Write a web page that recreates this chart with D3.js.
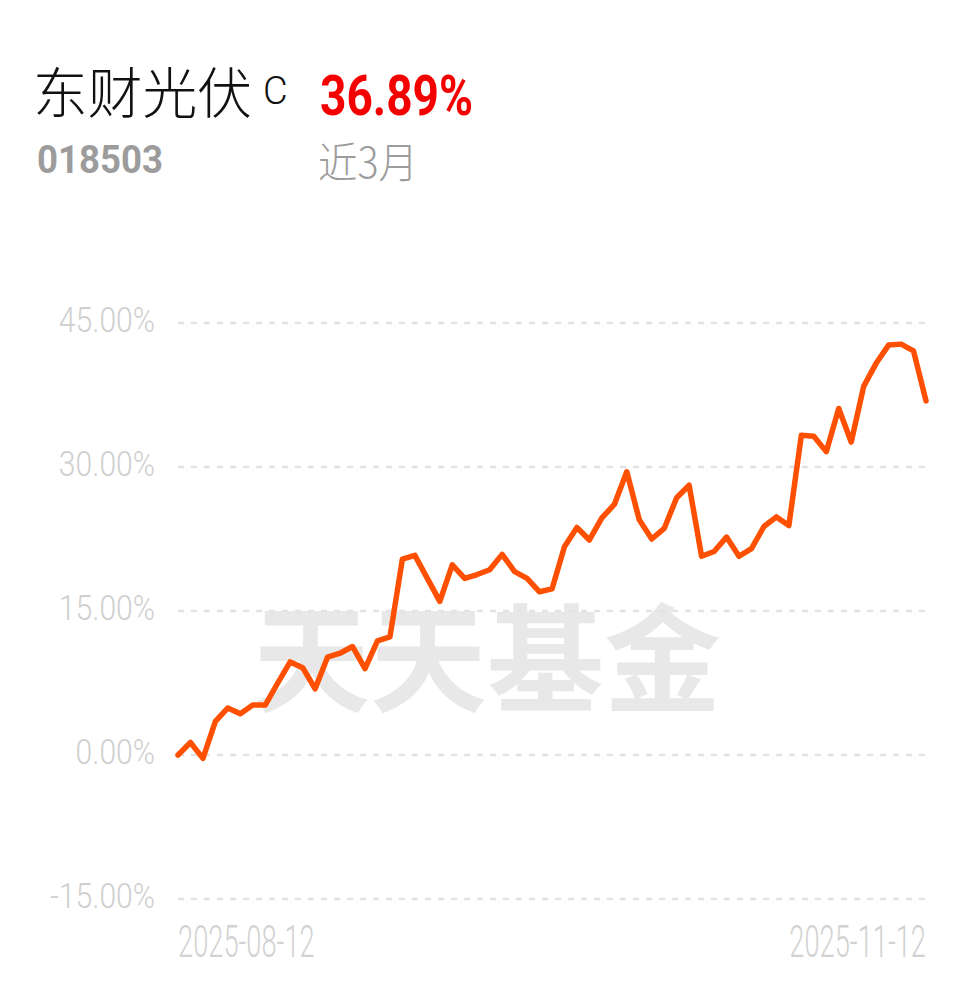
<!DOCTYPE html>
<html>
<head>
<meta charset="utf-8">
<script src="https://cdn.jsdelivr.net/npm/d3@7"></script>
<style>
html,body{margin:0;padding:0;background:#fff;}
svg{display:block;}
</style>
</head>
<body>
<svg id="chart" width="978" height="986"></svg>
<script>
// ---- data ----
const fundName = "东财光伏";
const fundSuffix = "C";
const fundCode = "018503";
const periodReturn = "36.89%";
const periodLabel = "近3月";
const watermark = "天天基金";
const yTicks = [-15, 0, 15, 30, 45];
const xTickLabels = ["2025-08-12", "2025-11-12"];
const returns = [
  0, 1.3, -0.35, 3.5, 4.9, 4.3, 5.2, 5.2, 7.5, 9.7,
  9.1, 6.9, 10.2, 10.6, 11.3, 9.0, 11.9, 12.3, 20.4, 20.8,
  18.4, 16.0, 19.8, 18.4, 18.8, 19.3, 20.9, 19.1, 18.4, 17.0,
  17.3, 21.7, 23.7, 22.4, 24.7, 26.1, 29.5, 24.5, 22.5, 23.6,
  26.8, 28.1, 20.7, 21.2, 22.7, 20.7, 21.5, 23.8, 24.8, 23.9,
  33.3, 33.2, 31.6, 36.1, 32.6, 38.4, 40.8, 42.7, 42.8, 42.1,
  36.89
];

// ---- drawing ----
(function() {
const svg = d3.select("#chart");
const pLeft = 178, pRight = 926, pTop = 323, pBottom = 899;
const x = d3.scaleLinear().domain([0, returns.length - 1]).range([pLeft, pRight]);
const y = d3.scaleLinear().domain([-15, 45]).range([pBottom, pTop]);

function fitWidth(sel, w) {
  sel.each(function() {
    this.setAttribute("textLength", w);
    this.setAttribute("lengthAdjust", "spacingAndGlyphs");
  });
}

// header
const t1 = svg.append("text")
  .attr("x", 33).attr("y", 113)
  .attr("font-family", "'Noto Sans CJK SC'")
  .attr("font-weight", 300)
  .attr("font-size", 55)
  .attr("fill", "#111")
  .text(fundName);
fitWidth(t1, 219);
svg.append("text")
  .attr("x", 263).attr("y", 104)
  .attr("font-family", "Roboto, 'Noto Sans'")
  .attr("font-weight", 300)
  .attr("font-size", 38)
  .attr("fill", "#111")
  .text(fundSuffix);

const t2 = svg.append("text")
  .attr("x", 320).attr("y", 115)
  .attr("font-family", "Roboto, 'Noto Sans'")
  .attr("font-weight", 700)
  .attr("font-size", 56)
  .attr("fill", "#f50000")
  .text(periodReturn);
fitWidth(t2, 153);

const t3 = svg.append("text")
  .attr("x", 37).attr("y", 173)
  .attr("font-family", "Roboto, 'Noto Sans'")
  .attr("font-weight", 700)
  .attr("font-size", 38)
  .attr("fill", "#9c9c9c")
  .text(fundCode);
fitWidth(t3, 126);

const t4 = svg.append("text")
  .attr("x", 318).attr("y", 178)
  .attr("font-family", "'Noto Sans CJK SC'")
  .attr("font-weight", 300)
  .attr("font-size", 42)
  .attr("fill", "#9c9c9c")
  .text(periodLabel);
fitWidth(t4, 100);

// watermark
svg.append("text")
  .attr("x", 487).attr("y", 703)
  .attr("text-anchor", "middle")
  .attr("font-family", "'Noto Sans CJK SC'")
  .attr("font-weight", 700)
  .attr("font-size", 117)
  .attr("fill", "#e8e8e8")
  .text(watermark);

// gridlines
svg.append("g").selectAll("line").data(yTicks).join("line")
  .attr("x1", pLeft).attr("x2", pRight)
  .attr("y1", d => y(d)).attr("y2", d => y(d))
  .attr("stroke", "#e3e3e3")
  .attr("stroke-width", 2.5)
  .attr("stroke-dasharray", "6,7");

// y labels (horizontally condensed)
const yAxis = d3.axisLeft(y).tickValues(yTicks).tickSize(0).tickPadding(0)
  .tickFormat(d => d.toFixed(2) + "%");
const gy = svg.append("g").attr("transform", `translate(155,-4)`).call(yAxis);
gy.select(".domain").remove();
gy.selectAll(".tick text")
  .attr("x", 0)
  .attr("font-family", "Roboto, 'Noto Sans'")
  .attr("font-weight", 300)
  .attr("font-size", 35)
  .attr("fill", "#cfcfcf")
  .attr("dy", "0.36em")
  .attr("transform", "scale(0.86,1)");

// x labels (horizontally condensed)
const sx = 0.62;
svg.append("g").selectAll("text").data(xTickLabels).join("text")
  .attr("transform", (d, i) => `translate(${i === 0 ? x(0) : x(returns.length - 1)},957) scale(${sx},1)`)
  .attr("text-anchor", (d, i) => i === 0 ? "start" : "end")
  .attr("font-family", "Roboto, 'Noto Sans'")
  .attr("font-weight", 300)
  .attr("font-size", 44)
  .attr("fill", "#d2d2d2")
  .text(d => d);

// line
const line = d3.line().x((d, i) => x(i)).y(d => y(d));
svg.append("path")
  .datum(returns)
  .attr("d", line)
  .attr("fill", "none")
  .attr("stroke", "#ff4f00")
  .attr("stroke-width", 5.5)
  .attr("stroke-linejoin", "round")
  .attr("stroke-linecap", "round");
})();
</script>
</body>
</html>
